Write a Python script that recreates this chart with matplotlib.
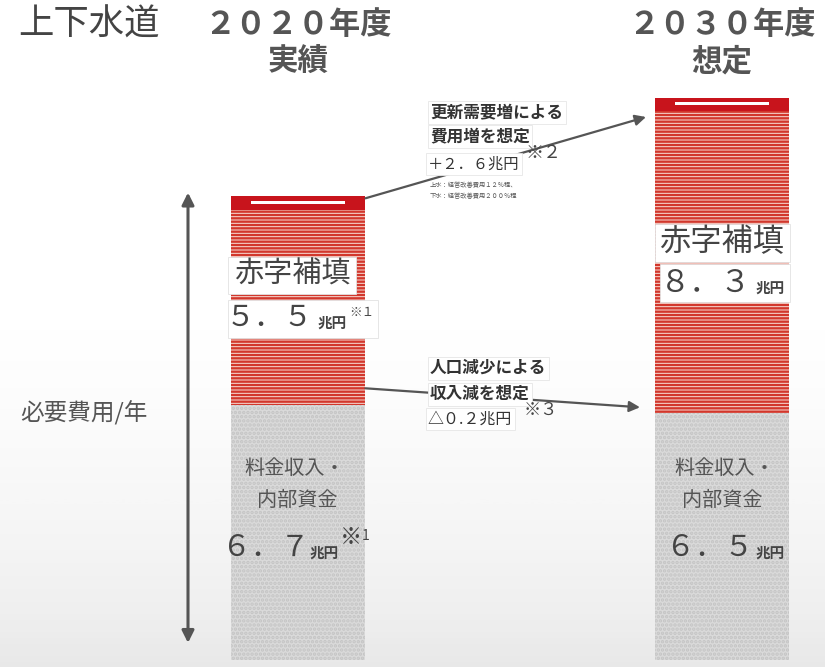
import matplotlib
matplotlib.use("Agg")
import matplotlib.pyplot as plt
from matplotlib.patches import Rectangle
import numpy as np

plt.rcParams['font.family'] = ['Noto Sans CJK JP', 'DejaVu Sans']
plt.rcParams['hatch.linewidth'] = 1.7

# ---- data ----
categories = ['２０２０年度\n実績', '２０３０年度\n想定']
revenue = [6.7, 6.5]          # 料金収入・内部資金 (兆円)
deficit = [5.5, 8.3]          # 赤字補填 (兆円)
revenue_labels = ['６．７', '６．５']
deficit_labels = ['５．５', '８．３']
cost_increase = '＋２．６兆円'
revenue_decrease = '△０.２兆円'

W, H = 825, 667
fig = plt.figure(figsize=(W / 100, H / 100), dpi=100)
ax = fig.add_axes([0, 0, 1, 1])
X0, XS = 298, 424.0   # layout mapping (pixel of x=0, pixels per unit)
Y0, YS = 660, 38.0
ax.set_xlim(-X0 / XS, (W - X0) / XS)
ax.set_ylim(-(H - Y0) / YS, Y0 / YS)
ax.axis('off')


def px(xp):
    return (xp - X0) / XS


def py(yp):
    return (Y0 - yp) / YS


# background soft gray gradient at bottom
grad = np.linspace(0, 1, 256).reshape(-1, 1)
grad = np.clip((grad - 0.45) / 0.55, 0, 1) ** 1.5
ax.imshow(grad, extent=(*ax.get_xlim(), *ax.get_ylim()), origin='upper',
          cmap='Greys', vmin=0, vmax=6, aspect='auto', zorder=0)

x = np.arange(len(categories))
w = 0.318
# gray revenue bars
ax.bar(x, revenue, width=w, color='#dadada', edgecolor='#c4c4c4', hatch='....',
       linewidth=0, zorder=2)
# red deficit bars (stripes)
ax.bar(x, deficit, bottom=revenue, width=w, color='#f8ddd6', edgecolor='#d2372c',
       hatch='-----', linewidth=0, zorder=2)
tops = np.array(revenue) + np.array(deficit)
# darker lid on top
ax.bar(x, [0.35, 0.35], bottom=tops - 0.35, width=w, color='#c8141c',
       linewidth=0, zorder=3)
ax.bar(x, [0.08, 0.08], bottom=tops - 0.2, width=w * 0.7, color='white',
       linewidth=0, zorder=4)

TXT = '#444444'
# top labels
ax.text(18 / W, 1 - 25 / H, '上下水道', transform=fig.transFigure,
        fontsize=25.5, color=TXT, va='center', ha='left')
for i, c in enumerate(categories):
    l1, l2 = c.split('\n')
    ax.text(x[i], py(25), l1, ha='center', va='center',
            fontsize=22.5, color='#555555', fontweight='bold')
    ax.text(x[i], py(62), l2, ha='center', va='center',
            fontsize=22, color='#555555', fontweight='bold')

# side label and double arrow
ax.text(20 / W, 1 - 413 / H, '必要費用/年', transform=fig.transFigure,
        fontsize=17, color='#555555', va='center', ha='left')
ax.annotate('', xy=(px(188), tops[0] + 0.1), xytext=(px(188), 0.45),
            arrowprops=dict(arrowstyle='<|-|>', color='#555555', lw=2.2,
                            mutation_scale=18, shrinkA=0, shrinkB=0), zorder=5)


def wbox(x1, y1, x2, y2):
    ax.add_patch(Rectangle((px(x1), py(y2)), px(x2) - px(x1), py(y1) - py(y2),
                           facecolor='white', edgecolor='#e2e2e2', lw=0.6,
                           zorder=5))


# deficit labels
wbox(228, 257, 356, 294)
ax.text(px(292), py(275), '赤字補填', ha='center', va='center',
        fontsize=21, color=TXT, zorder=6)
wbox(228, 300, 378, 338)
ax.text(px(226), py(318), deficit_labels[0], ha='left', va='center',
        fontsize=21, color=TXT, zorder=6)
ax.text(px(318), py(323), '兆円', ha='left', va='center',
        fontsize=10.5, color=TXT, fontweight='bold', zorder=6)
ax.text(px(349), py(313), '※１', ha='left', va='center',
        fontsize=9, color=TXT, zorder=6)

wbox(655, 224, 790, 262)
ax.text(px(722), py(242), '赤字補填', ha='center', va='center',
        fontsize=22.5, color=TXT, zorder=6)
wbox(660, 264, 790, 302)
ax.text(px(660), py(283), deficit_labels[1], ha='left', va='center',
        fontsize=22, color=TXT, zorder=6)
ax.text(px(756), py(288), '兆円', ha='left', va='center',
        fontsize=10.5, color=TXT, fontweight='bold', zorder=6)

# revenue labels
centers = [(295, 297), (725, 722)]
vx = [222, 666]
ux = [310, 756]
for i in range(2):
    ax.text(px(centers[i][0]), py(468), '料金収入・', ha='center', va='center',
            fontsize=14.5, color='#555555', zorder=6)
    ax.text(px(centers[i][1]), py(500), '内部資金', ha='center', va='center',
            fontsize=14.5, color='#555555', zorder=6)
    ax.text(px(vx[i]), py(548), revenue_labels[i], ha='left', va='center',
            fontsize=21, color=TXT, zorder=6)
    ax.text(px(ux[i]), py(553), '兆円', ha='left', va='center',
            fontsize=10.5, color=TXT, fontweight='bold', zorder=6)
ax.text(px(340), py(538), '※', ha='left', va='center', fontsize=16,
        color=TXT, zorder=6)
ax.text(px(362), py(536), '1', ha='left', va='center', fontsize=10,
        color=TXT, zorder=6)

# change arrows
ax.annotate('', xy=(px(646), py(117)), xytext=(w / 2, tops[0] - 0.05),
            arrowprops=dict(arrowstyle='-|>', color='#555555', lw=1.6,
                            mutation_scale=16, shrinkA=0, shrinkB=0), zorder=4)
ax.annotate('', xy=(px(640), revenue[1] + 0.15),
            xytext=(w / 2, revenue[0] + 0.45),
            arrowprops=dict(arrowstyle='-|>', color='#555555', lw=1.6,
                            mutation_scale=16, shrinkA=0, shrinkB=0), zorder=4)

abox = dict(boxstyle='square,pad=0.15', fc='white', ec='#e6e6e6', lw=0.6)
# annotation box 1
ax.text(px(430), py(112), '更新需要増による', ha='left', va='center',
        fontsize=12, color='#333333', fontweight='bold', bbox=abox, zorder=6)
ax.text(px(430), py(136), '費用増を想定', ha='left', va='center',
        fontsize=12, color='#333333', fontweight='bold', bbox=abox, zorder=6)
ax.text(px(428), py(164), cost_increase, ha='left', va='center', fontsize=11,
        color='#333333', bbox=abox, zorder=6)
ax.text(px(526), py(153), '※２', ha='left', va='center', fontsize=13,
        color=TXT, zorder=6)
ax.text(px(430), py(185), '上水：経営改善費用１２％程、', ha='left', va='center',
        fontsize=4.5, color='#555555', zorder=6)
ax.text(px(430), py(196), '下水：経営改善費用２００％程', ha='left', va='center',
        fontsize=4.5, color='#555555', zorder=6)

# annotation box 2
ax.text(px(430), py(368), '人口減少による', ha='left', va='center',
        fontsize=12, color='#333333', fontweight='bold', bbox=abox, zorder=6)
ax.text(px(430), py(394), '収入減を想定', ha='left', va='center',
        fontsize=12, color='#333333', fontweight='bold', bbox=abox, zorder=6)
ax.text(px(428), py(419), revenue_decrease, ha='left', va='center',
        fontsize=11.5, color='#333333', bbox=abox, zorder=6)
ax.text(px(524), py(410), '※３', ha='left', va='center', fontsize=12.5,
        color=TXT, zorder=6)

fig.savefig('out.png', dpi=100)
